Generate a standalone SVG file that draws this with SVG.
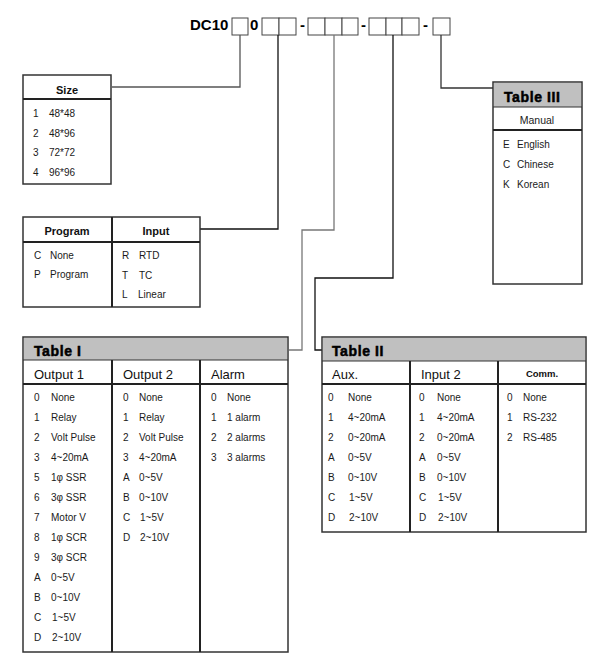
<svg xmlns="http://www.w3.org/2000/svg" width="598" height="654" viewBox="0 0 598 654">
<style>
.t{font-family:"Liberation Sans",Arial,sans-serif;font-size:10px;fill:#1a1a1a}
.h{font-family:"Liberation Sans",Arial,sans-serif;font-size:11px;font-weight:bold;fill:#111;text-anchor:middle}
.big{font-family:"Liberation Sans",Arial,sans-serif;font-size:14px;font-weight:bold;fill:#000;stroke:#000;stroke-width:0.5;letter-spacing:0.6px}
.sub{font-family:"Liberation Sans",Arial,sans-serif;font-size:13px;fill:#111}
.hd{font-family:"Liberation Sans",Arial,sans-serif;font-size:15px;font-weight:bold;fill:#000}
.box{fill:#fff;stroke:#333;stroke-width:1.5}
.cell{fill:#fff;stroke:#444;stroke-width:1}
.gray{fill:#c0c0c0;stroke:none}
.thin{stroke:#333;stroke-width:1;fill:none}
.thick{stroke:#222;stroke-width:2;fill:none}
.c{fill:none;stroke-width:1.3}
</style>

<g id="code">
<text class="hd" x="190" y="30">DC10</text>
<rect class="cell" x="232" y="18" width="16" height="17"/>
<text class="hd" x="250" y="30">0</text>
<rect class="cell" x="262" y="18" width="17" height="17"/>
<rect class="cell" x="279" y="18" width="17" height="17"/>
<text class="hd" x="300" y="30">-</text>
<rect class="cell" x="308" y="18" width="17" height="17"/>
<rect class="cell" x="325" y="18" width="17" height="17"/>
<rect class="cell" x="342" y="18" width="16" height="17"/>
<text class="hd" x="361" y="30">-</text>
<rect class="cell" x="369" y="18" width="17" height="17"/>
<rect class="cell" x="386" y="18" width="16" height="17"/>
<rect class="cell" x="402" y="18" width="17" height="17"/>
<text class="hd" x="423" y="30">-</text>
<rect class="cell" x="433" y="18" width="17" height="17"/>
</g>

<g id="connectors">
<polyline class="c" stroke="#555" points="240,35 240,87 112,87"/>
<polyline class="c" stroke="#111" points="278,35 278,229 200,229"/>
<polyline class="c" stroke="#777" stroke-width="1.6" points="334,35 334,230 302,230 302,350 289,350"/>
<polyline class="c" stroke="#111" points="393,35 393,278 315,278 315,350 322,350"/>
<polyline class="c" stroke="#333" points="441,35 441,88 493,88"/>
</g>

<g id="size">
<rect class="box" x="23" y="75" width="88" height="109"/>
<line class="thick" x1="23" y1="99" x2="111" y2="99"/>
<text class="h" x="67" y="94">Size</text>
<text class="t" x="33" y="117">1</text><text class="t" x="49" y="117">48*48</text>
<text class="t" x="33" y="137">2</text><text class="t" x="49" y="137">48*96</text>
<text class="t" x="33" y="156">3</text><text class="t" x="49" y="156">72*72</text>
<text class="t" x="33" y="176">4</text><text class="t" x="49" y="176">96*96</text>
</g>

<g id="program-input">
<rect class="box" x="23" y="217" width="177" height="90"/>
<line class="thick" x1="23" y1="242" x2="200" y2="242"/>
<line class="thick" x1="112" y1="217" x2="112" y2="307"/>
<text class="h" x="67" y="235">Program</text>
<text class="h" x="156" y="235">Input</text>
<text class="t" x="34" y="259">C</text><text class="t" x="50" y="259">None</text>
<text class="t" x="34" y="278">P</text><text class="t" x="50" y="278">Program</text>
<text class="t" x="122" y="259">R</text><text class="t" x="139" y="259">RTD</text>
<text class="t" x="122" y="279">T</text><text class="t" x="139" y="279">TC</text>
<text class="t" x="122" y="298">L</text><text class="t" x="138" y="298">Linear</text>
</g>

<g id="table3">
<rect class="box" x="493" y="82" width="89" height="202"/>
<rect class="gray" x="494" y="83" width="87" height="24"/>
<line class="thin" x1="493" y1="107" x2="582" y2="107"/>
<line class="thick" x1="493" y1="130" x2="582" y2="130"/>
<text class="big" x="504" y="102">Table III</text>
<text class="t" x="537" y="124" text-anchor="middle" style="font-size:10.5px">Manual</text>
<text class="t" x="503" y="148">E</text><text class="t" x="517" y="148">English</text>
<text class="t" x="503" y="168">C</text><text class="t" x="517" y="168">Chinese</text>
<text class="t" x="503" y="188">K</text><text class="t" x="517" y="188">Korean</text>
</g>

<g id="table1">
<rect class="box" x="23" y="337" width="265" height="315"/>
<rect class="gray" x="24" y="338" width="263" height="22"/>
<line class="thin" x1="23" y1="360" x2="288" y2="360"/>
<line class="thick" x1="23" y1="384" x2="288" y2="384"/>
<line class="thick" x1="112" y1="360" x2="112" y2="652"/>
<line class="thick" x1="200" y1="360" x2="200" y2="652"/>
<text class="big" x="34" y="356">Table I</text>
<text class="sub" x="34" y="379">Output 1</text>
<text class="sub" x="123" y="379">Output 2</text>
<text class="sub" x="211" y="379">Alarm</text>
<g class="t">
<text x="34" y="401">0</text><text x="51" y="401">None</text>
<text x="34" y="421">1</text><text x="51" y="421">Relay</text>
<text x="34" y="441">2</text><text x="51" y="441">Volt Pulse</text>
<text x="34" y="461">3</text><text x="51" y="461">4~20mA</text>
<text x="34" y="481">5</text><text x="51" y="481">1φ SSR</text>
<text x="34" y="501">6</text><text x="51" y="501">3φ SSR</text>
<text x="34" y="521">7</text><text x="51" y="521">Motor V</text>
<text x="34" y="541">8</text><text x="51" y="541">1φ SCR</text>
<text x="34" y="561">9</text><text x="51" y="561">3φ SCR</text>
<text x="34" y="581">A</text><text x="51" y="581">0~5V</text>
<text x="34" y="601">B</text><text x="51" y="601">0~10V</text>
<text x="34" y="621">C</text><text x="52" y="621">1~5V</text>
<text x="34" y="641">D</text><text x="52" y="641">2~10V</text>
<text x="123" y="401">0</text><text x="139" y="401">None</text>
<text x="123" y="421">1</text><text x="139" y="421">Relay</text>
<text x="123" y="441">2</text><text x="139" y="441">Volt Pulse</text>
<text x="123" y="461">3</text><text x="139" y="461">4~20mA</text>
<text x="123" y="481">A</text><text x="139" y="481">0~5V</text>
<text x="123" y="501">B</text><text x="139" y="501">0~10V</text>
<text x="123" y="521">C</text><text x="140" y="521">1~5V</text>
<text x="123" y="541">D</text><text x="140" y="541">2~10V</text>
<text x="211" y="401">0</text><text x="227" y="401">None</text>
<text x="211" y="421">1</text><text x="227" y="421">1 alarm</text>
<text x="211" y="441">2</text><text x="227" y="441">2 alarms</text>
<text x="211" y="461">3</text><text x="227" y="461">3 alarms</text>
</g>
</g>

<g id="table2">
<rect class="box" x="322" y="337" width="264" height="195"/>
<rect class="gray" x="323" y="338" width="262" height="23"/>
<line class="thin" x1="322" y1="361" x2="586" y2="361"/>
<line class="thick" x1="322" y1="384" x2="586" y2="384"/>
<line class="thick" x1="410" y1="361" x2="410" y2="532"/>
<line class="thick" x1="498" y1="361" x2="498" y2="532"/>
<text class="big" x="332" y="356">Table II</text>
<text class="sub" x="332" y="379">Aux.</text>
<text class="sub" x="421" y="379">Input 2</text>
<text class="h" x="542" y="377" style="font-size:9.5px">Comm.</text>
<g class="t">
<text x="328" y="401">0</text><text x="348" y="401">None</text>
<text x="328" y="421">1</text><text x="348" y="421">4~20mA</text>
<text x="328" y="441">2</text><text x="348" y="441">0~20mA</text>
<text x="328" y="461">A</text><text x="348" y="461">0~5V</text>
<text x="328" y="481">B</text><text x="348" y="481">0~10V</text>
<text x="328" y="501">C</text><text x="349" y="501">1~5V</text>
<text x="328" y="521">D</text><text x="349" y="521">2~10V</text>
<text x="419" y="401">0</text><text x="437" y="401">None</text>
<text x="419" y="421">1</text><text x="437" y="421">4~20mA</text>
<text x="419" y="441">2</text><text x="437" y="441">0~20mA</text>
<text x="419" y="461">A</text><text x="437" y="461">0~5V</text>
<text x="419" y="481">B</text><text x="437" y="481">0~10V</text>
<text x="419" y="501">C</text><text x="438" y="501">1~5V</text>
<text x="419" y="521">D</text><text x="438" y="521">2~10V</text>
<text x="507" y="401">0</text><text x="523" y="401">None</text>
<text x="507" y="421">1</text><text x="523" y="421">RS-232</text>
<text x="507" y="441">2</text><text x="523" y="441">RS-485</text>
</g>
</g>
</svg>
